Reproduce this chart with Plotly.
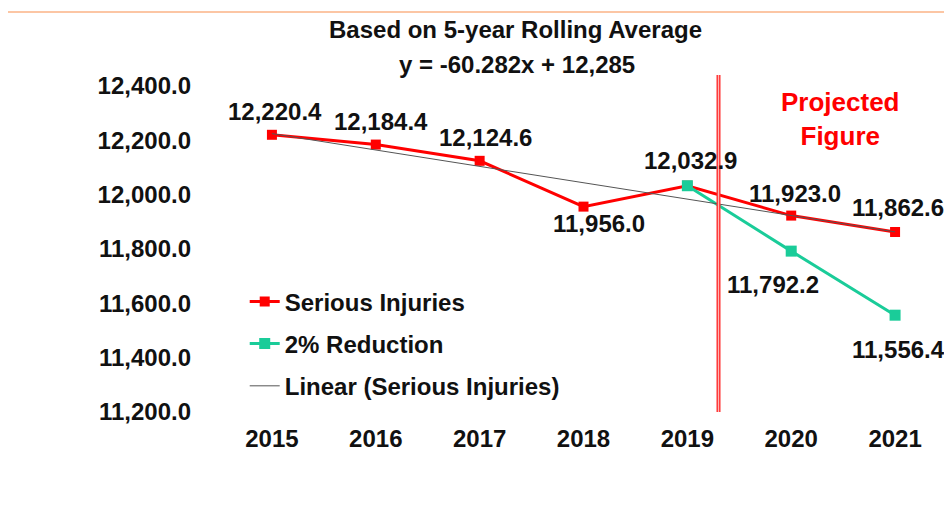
import plotly.graph_objects as go

years = [2015, 2016, 2017, 2018, 2019, 2020, 2021]
serious_injuries = [12220.4, 12184.4, 12124.6, 11956.0, 12032.9, 11923.0, 11862.6]
reduction_years = [2019, 2020, 2021]
reduction_values = [12032.9, 11792.2, 11556.4]
trend_slope = -60.282
trend_intercept = 12285
y_ticks = [11200, 11400, 11600, 11800, 12000, 12200, 12400]
projection_split = 2019.3

trend_values = [trend_slope * (i + 1) + trend_intercept for i in range(len(years))]

FONT = "Liberation Sans, Arial, sans-serif"
RED = "#FF0000"
GREEN = "#1ACC99"
TXT = "#111111"

fig = go.Figure()
fig.add_trace(go.Scatter(
    x=years, y=serious_injuries, mode="lines+markers", name="Serious Injuries",
    line=dict(color=RED, width=3), marker=dict(symbol="square", size=10, color=RED),
    legendgroup="a"))
fig.add_trace(go.Scatter(
    x=reduction_years, y=reduction_values, mode="lines+markers", name="2% Reduction",
    line=dict(color=GREEN, width=3), marker=dict(symbol="square", size=11, color=GREEN),
    legendgroup="b"))
fig.add_trace(go.Scatter(
    x=years, y=trend_values, mode="lines", name="Linear (Serious Injuries)",
    line=dict(color="#555555", width=1), legendgroup="c"))

# data labels (offsets in px: dx right, dy down)
si_offsets = [(3, -23), (5, -23), (6, -23), (15, 17), (3, -25), (4, -22), (3, -24)]
for x, v, (dx, dy) in zip(years, serious_injuries, si_offsets):
    if x == 2019:
        continue
    fig.add_annotation(x=x, y=v, text=f"<b>{v:,.1f}</b>", showarrow=False,
                       xanchor="center", yanchor="middle",
                       xshift=dx, yshift=-dy, font=dict(family=FONT, size=24, color=TXT))
red_offsets = [(3, -25), (-18, 33), (3, 34)]
for x, v, (dx, dy) in zip(reduction_years, reduction_values, red_offsets):
    fig.add_annotation(x=x, y=v, text=f"<b>{v:,.1f}</b>", showarrow=False,
                       xanchor="center", yanchor="middle",
                       xshift=dx, yshift=-dy, font=dict(family=FONT, size=24, color=TXT))

# titles
fig.add_annotation(xref="paper", yref="paper", x=0.407, y=1.172, showarrow=False,
                   xanchor="center", yanchor="middle",
                   text="<b>Based on 5-year Rolling Average</b>",
                   font=dict(family=FONT, size=24, color=TXT))
fig.add_annotation(xref="paper", yref="paper", x=0.408, y=1.067, showarrow=False,
                   xanchor="center", yanchor="middle",
                   text=f"<b>y = {trend_slope}x + {trend_intercept:,}</b>",
                   font=dict(family=FONT, size=24, color=TXT))
fig.add_annotation(xref="paper", yref="paper", x=0.853, y=0.899, showarrow=False,
                   xanchor="center", yanchor="middle",
                   text="<b>Projected<br>Figure</b>",
                   font=dict(family=FONT, size=26, color=RED))

# top orange rule
fig.add_shape(type="line", xref="paper", yref="paper", x0=-0.292, x1=1.01, y0=1.227, y1=1.227,
              line=dict(color="#FCC6A4", width=2))
# projection divider
fig.add_shape(type="line", xref="x", yref="paper", x0=projection_split, x1=projection_split,
              y0=0, y1=1.034, line=dict(color="#FF3030", width=4))
fig.add_shape(type="line", xref="x", yref="paper", x0=projection_split, x1=projection_split,
              y0=0, y1=1.034, line=dict(color="#FFB4B4", width=1.2))

fig.update_layout(
    width=944, height=504,
    margin=dict(l=212, r=5, t=78, b=100),
    paper_bgcolor="white", plot_bgcolor="white",
    font=dict(family=FONT, size=24, color=TXT),
    showlegend=True,
    legend=dict(x=0.034, y=0.407, xanchor="left", yanchor="top",
                font=dict(family=FONT, size=24, color=TXT, weight="bold"),
                bgcolor="rgba(0,0,0,0)", tracegroupgap=8, itemwidth=30),
    xaxis=dict(range=[2014.5, 2021.5], tickvals=years, ticktext=[str(y) for y in years],
               showgrid=False, zeroline=False, showline=False, ticks="",
               tickfont=dict(family=FONT, size=24, color=TXT, weight="bold"),
               ticklabelstandoff=10),
    yaxis=dict(range=[11200, 12400], tickvals=y_ticks, tickformat=",.1f",
               showgrid=False, zeroline=False, showline=False, ticks="",
               tickfont=dict(family=FONT, size=24, color=TXT, weight="bold"),
               ticklabelstandoff=28),
)

fig.write_html("out.html")
